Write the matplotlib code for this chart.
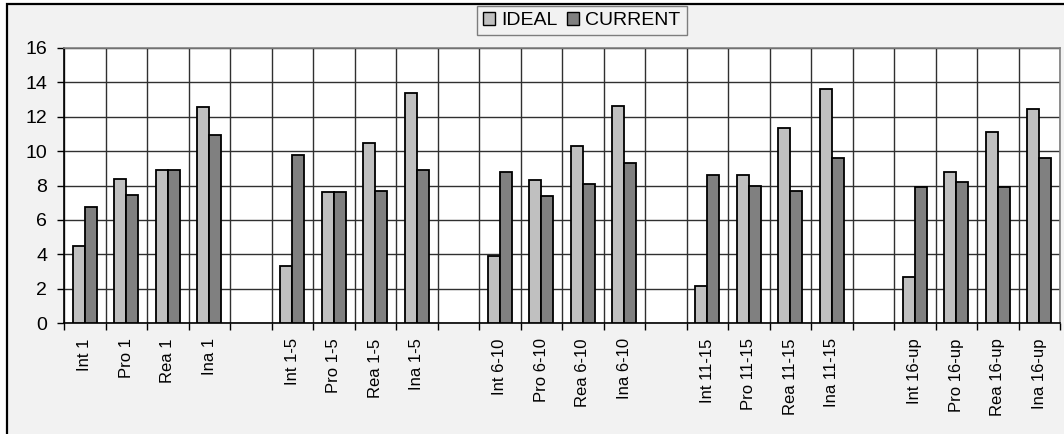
import numpy as np
import matplotlib
matplotlib.use("Agg")
import matplotlib.pyplot as plt
from matplotlib.patches import Rectangle, Patch

plt.rcParams['font.family'] = ['Liberation Sans', 'DejaVu Sans']

# 24 slots: five groups of four, separated by empty slots
categories = ['Int 1', 'Pro 1', 'Rea 1', 'Ina 1', '',
              'Int 1-5', 'Pro 1-5', 'Rea 1-5', 'Ina 1-5', '',
              'Int 6-10', 'Pro 6-10', 'Rea 6-10', 'Ina 6-10', '',
              'Int 11-15', 'Pro 11-15', 'Rea 11-15', 'Ina 11-15', '',
              'Int 16-up', 'Pro 16-up', 'Rea 16-up', 'Ina 16-up']

ideal = [4.5, 8.4, 8.9, 12.55, None,
         3.3, 7.6, 10.5, 13.4, None,
         3.9, 8.3, 10.3, 12.65, None,
         2.15, 8.6, 11.35, 13.6, None,
         2.7, 8.8, 11.1, 12.45]

current = [6.75, 7.45, 8.9, 10.95, None,
           9.75, 7.6, 7.7, 8.9, None,
           8.8, 7.4, 8.1, 9.3, None,
           8.6, 8.0, 7.7, 9.6, None,
           7.9, 8.2, 7.9, 9.6]

series_names = ['IDEAL', 'CURRENT']
series_colors = ['#c0c0c0', '#808080']

yticks = list(range(0, 17, 2))

fig = plt.figure(figsize=(10.64, 4.34), dpi=100)
fig.patch.set_facecolor('white')

# grey chart area with black frame
W, H = 1064, 434
fig.patches.append(Rectangle((7 / W, -0.2), 1.2, 1.2 - 3.5 / H, transform=fig.transFigure,
                             facecolor='#f2f2f2', edgecolor='black', linewidth=1.6,
                             zorder=-5))

ax = fig.add_axes([64 / W, 1 - 323 / H, (1060 - 64) / W, (323 - 48) / H])
ax.set_facecolor('white')

x = np.arange(len(categories))
bw = 0.29
vals_i = np.array([np.nan if v is None else v for v in ideal], dtype=float)
vals_c = np.array([np.nan if v is None else v for v in current], dtype=float)
ax.bar(x - bw / 2, vals_i, width=bw, color=series_colors[0], edgecolor='black',
       linewidth=1.3, zorder=3)
ax.bar(x + bw / 2, vals_c, width=bw, color=series_colors[1], edgecolor='black',
       linewidth=1.3, zorder=3)

ax.set_xlim(-0.5, len(categories) - 0.5)
ax.set_ylim(0, 16)

# tick marks and vertical grid at slot boundaries, labels at slot centres
bounds = np.arange(-0.5, len(categories), 1.0)
ax.set_xticks(bounds)
ax.set_xticklabels([])
ax.set_xticks(x, minor=True)
ax.set_xticklabels(categories, minor=True, rotation=90, fontsize=12)
ax.tick_params(axis='x', which='major', direction='out', length=5, width=1, color='black')
ax.tick_params(axis='x', which='minor', length=0, pad=11)

ax.set_yticks(yticks)
ax.set_yticklabels([str(t) for t in yticks], fontsize=14)
ax.tick_params(axis='y', direction='out', length=5, width=1, color='black', pad=7)

ax.grid(True, which='major', color='#303030', linewidth=1.0, zorder=1)
ax.set_axisbelow(True)

for side in ['top', 'right']:
    ax.spines[side].set_color('#808080')
    ax.spines[side].set_linewidth(1.2)
for side in ['left', 'bottom']:
    ax.spines[side].set_color('black')
    ax.spines[side].set_linewidth(1.2)

handles = [Patch(facecolor=c, edgecolor='black', linewidth=1.0, label=n)
           for n, c in zip(series_names, series_colors)]
leg = fig.legend(handles=handles, loc='center', bbox_to_anchor=(582 / W, 1 - 20.5 / H),
                 ncol=2, fontsize=14, frameon=True, fancybox=False, shadow=False,
                 handlelength=0.62, handleheight=0.62, handletextpad=0.3,
                 columnspacing=0.5, borderpad=0.32, borderaxespad=0)
leg.get_frame().set_facecolor('#f2f2f2')
leg.get_frame().set_edgecolor('#606060')
leg.get_frame().set_linewidth(1.0)

fig.savefig('out.png', dpi=100)
